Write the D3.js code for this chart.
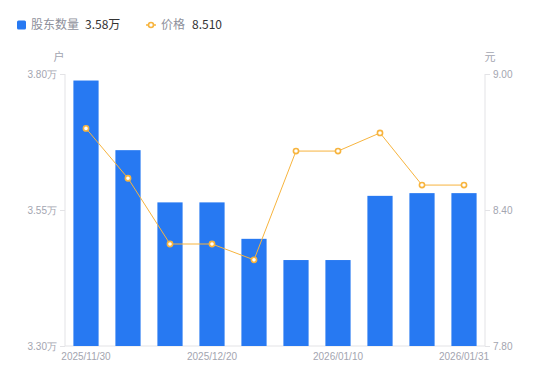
<!DOCTYPE html>
<html>
<head>
<meta charset="utf-8">
<script src="https://cdn.jsdelivr.net/npm/d3@7"></script>
<style>
  body { margin: 0; background: #fff; }
  svg { font-family: "Noto Sans CJK SC", "Noto Sans", sans-serif; }
</style>
</head>
<body>
<svg id="chart" width="550" height="381"></svg>
<script>
// data
var dates = ["2025/11/30", "2025/12/10", "2025/12/15", "2025/12/20", "2025/12/31",
             "2026/01/05", "2026/01/10", "2026/01/20", "2026/01/23", "2026/01/31"];
var holders = [3.788, 3.660, 3.564, 3.564, 3.497, 3.458, 3.458, 3.576, 3.581, 3.581]; // 万户
var prices = [8.76, 8.54, 8.25, 8.25, 8.18, 8.66, 8.66, 8.74, 8.51, 8.51]; // 元
var holderTicks = [3.30, 3.55, 3.80];
var priceTicks = [7.80, 8.40, 9.00];
var shownDates = ["2025/11/30", "2025/12/20", "2026/01/10", "2026/01/31"];

var svg = d3.select("#chart");
var plotL = 65, plotR = 485, plotT = 74, plotB = 346;
var axisColor = "#e3e3e6", labelColor = "#a3a5b0";
var barColor = "#2779f2", lineColor = "#f7b43e";

var x = d3.scaleBand().domain(dates).range([plotL, plotR]).paddingInner(0.4).paddingOuter(0.2);
var yL = d3.scaleLinear().domain([3.30, 3.80]).range([plotB, plotT]);
var yR = d3.scaleLinear().domain([7.80, 9.00]).range([plotB, plotT]);

// axes
var gl = svg.append("g").attr("transform", "translate(" + plotL + ",0)")
  .call(d3.axisLeft(yL).tickValues(holderTicks).tickSize(5).tickPadding(3)
    .tickFormat(function(d) { return d3.format(".2f")(d) + "万"; }));
var gr = svg.append("g").attr("transform", "translate(" + plotR + ",0)")
  .call(d3.axisRight(yR).tickValues(priceTicks).tickSize(5).tickPadding(3)
    .tickFormat(d3.format(".2f")));
var gb = svg.append("g").attr("transform", "translate(0," + plotB + ")")
  .call(d3.axisBottom(x).tickValues(shownDates).tickSize(0).tickPadding(7));

[gl, gr, gb].forEach(function(g) {
  g.select(".domain").attr("stroke", axisColor);
  g.selectAll(".tick line").attr("stroke", axisColor);
  g.selectAll("text").attr("fill", labelColor).style("font-size", "10px");
});
gl.select(".domain").attr("d", "M0," + plotT + "V" + plotB);
gr.select(".domain").attr("d", "M0," + plotT + "V" + plotB);
gb.select(".domain").attr("d", "M" + plotL + ",0H" + plotR);

// unit labels
svg.append("text").attr("x", 59).attr("y", 61).attr("text-anchor", "middle")
  .attr("fill", labelColor).style("font-size", "11px").text("户");
svg.append("text").attr("x", 490).attr("y", 61).attr("text-anchor", "middle")
  .attr("fill", labelColor).style("font-size", "11px").text("元");

// bars
svg.selectAll(".bar")
  .data(holders)
  .enter().append("rect")
  .attr("class", "bar")
  .attr("x", function(d, i) { return x(dates[i]); })
  .attr("y", function(d) { return yL(d); })
  .attr("width", x.bandwidth())
  .attr("height", function(d) { return plotB - yL(d); })
  .attr("fill", barColor);

// price line
var cx = function(i) { return x(dates[i]) + x.bandwidth() / 2; };
svg.append("path")
  .datum(prices)
  .attr("fill", "none")
  .attr("stroke", lineColor)
  .attr("stroke-width", 1)
  .attr("d", d3.line().x(function(d, i) { return cx(i); }).y(function(d) { return yR(d); }));

svg.selectAll(".dot")
  .data(prices)
  .enter().append("circle")
  .attr("cx", function(d, i) { return cx(i); })
  .attr("cy", function(d) { return yR(d); })
  .attr("r", 2.6)
  .attr("fill", "#fff")
  .attr("stroke", lineColor)
  .attr("stroke-width", 1.6);

// legend
var lg = svg.append("g").style("font-size", "12px");
lg.append("rect").attr("x", 17).attr("y", 20.5).attr("width", 9).attr("height", 9)
  .attr("rx", 1.5).attr("fill", barColor);
lg.append("text").attr("x", 31).attr("y", 29).attr("fill", "#8e909b").text("股东数量");
lg.append("text").attr("x", 85).attr("y", 29).attr("fill", "#333").text(d3.format(".2f")(holders[holders.length - 1]) + "万");
lg.append("line").attr("x1", 146).attr("x2", 156).attr("y1", 25).attr("y2", 25)
  .attr("stroke", lineColor).attr("stroke-width", 1.5);
lg.append("circle").attr("cx", 151).attr("cy", 25).attr("r", 2.5)
  .attr("fill", "#fff").attr("stroke", lineColor).attr("stroke-width", 1.6);
lg.append("text").attr("x", 161).attr("y", 29).attr("fill", "#8e909b").text("价格");
lg.append("text").attr("x", 192).attr("y", 29).attr("fill", "#333").text(d3.format(".3f")(prices[prices.length - 1]));
</script>
</body>
</html>
